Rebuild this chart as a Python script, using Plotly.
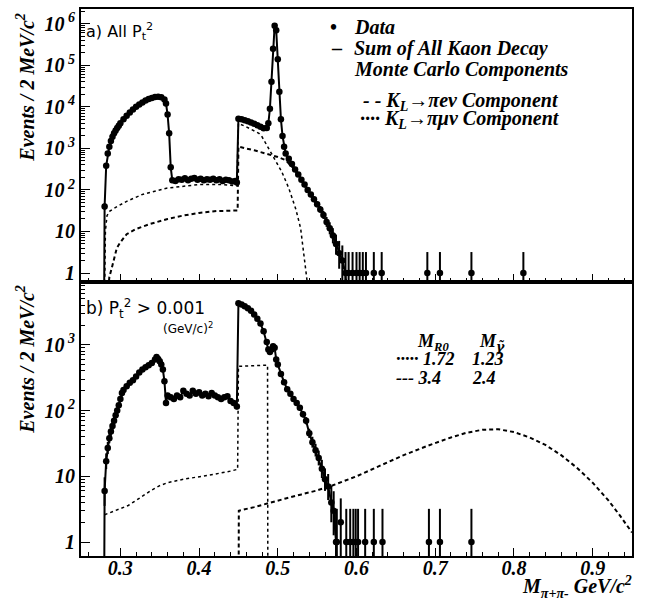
import numpy as np
import plotly.graph_objects as go

# ---------------- data ----------------
# panel a) all Pt^2 : data points
a_x = [0.280, 0.282, 0.284, 0.286, 0.288, 0.290, 0.292, 0.294, 0.296, 0.298,
       0.300, 0.304, 0.308, 0.312, 0.316, 0.320, 0.324, 0.328, 0.332, 0.336,
       0.340, 0.344, 0.348, 0.352, 0.356, 0.358, 0.360, 0.362, 0.364, 0.366,
       0.370, 0.374, 0.378, 0.382, 0.386, 0.390, 0.394, 0.398, 0.402, 0.406,
       0.410, 0.414, 0.418, 0.422, 0.426, 0.430, 0.434, 0.438, 0.442, 0.446,
       0.448,
       0.450, 0.454, 0.458, 0.462, 0.466, 0.470, 0.474, 0.478, 0.482, 0.486,
       0.488, 0.490, 0.492, 0.494, 0.496, 0.498, 0.500, 0.502, 0.504, 0.506,
       0.508, 0.510, 0.514, 0.518, 0.522, 0.526, 0.530, 0.534, 0.538, 0.542,
       0.546, 0.550, 0.554, 0.558, 0.562, 0.566, 0.570, 0.574, 0.578, 0.582,
       0.586,
       0.590, 0.595, 0.600, 0.604, 0.608, 0.612, 0.622, 0.632, 0.690, 0.706,
       0.746, 0.812]
a_y = [40, 380, 750, 1100, 1500, 1900, 2300, 2700, 3100, 3500,
       4000, 5000, 6100, 7300, 8600, 10000, 11400, 12800, 14200, 15400,
       16400, 17200, 17600, 17000, 15000, 12000, 6500, 2300, 350, 170,
       165, 180, 175, 190, 170, 185, 195, 175, 185, 170,
       180, 175, 185, 170, 180, 165, 175, 170, 160, 165,
       150,
       5200, 5000, 4750, 4500, 4200, 3900, 3600, 3300, 3050, 3100,
       4000, 9000, 40000, 250000, 900000, 700000, 140000, 23000, 5000, 2000,
       1100, 750, 560, 420, 310, 235, 175, 135, 100, 78,
       60, 45, 34, 25, 17, 12, 8, 5, 3, 2,
       1,
       1, 1, 1, 1, 1, 1, 1, 1, 1, 1,
       1, 1]

# panel a) K_L -> pi e nu component (dashed)
ke3_a_x = [0.2840, 0.2860, 0.2890, 0.2955, 0.3000, 0.3080, 0.3200, 0.3370, 0.3600,
           0.3790, 0.4000, 0.4220, 0.4490, 0.4500, 0.4700, 0.4850, 0.5000, 0.5100,
           0.5200, 0.5300, 0.5400, 0.5500, 0.5600, 0.5700, 0.5800, 0.5850, 0.5900]
ke3_a_y = [0.3, 0.8, 1.3, 4.0, 5.5, 8.6, 11.5, 15, 20,
           24, 28, 31, 32, 1100, 900, 750, 620, 520,
           330, 165, 85, 42, 20, 8, 2.5, 1.0, 0.3]

# panel a) K_L -> pi mu nu component (dotted)
kmu3_a_x = [0.2800, 0.2810, 0.2830, 0.2866, 0.2960, 0.3080, 0.3280, 0.3585, 0.4000,
            0.4300, 0.4480, 0.4500, 0.4600, 0.4700, 0.4760, 0.4800, 0.4900, 0.4925,
            0.5000, 0.5050, 0.5140, 0.5230, 0.5290, 0.5330, 0.5350, 0.5370, 0.5400]
kmu3_a_y = [0.3, 10, 24, 31, 40, 53, 78, 110, 135,
            135, 125, 4000, 3300, 2700, 2300, 1900, 900, 700,
            400, 275, 110, 34, 12, 3.0, 1.3, 0.7, 0.01]

# panel b) Pt^2 > 0.001 : data points
b_x = [0.280, 0.282, 0.284, 0.286, 0.288, 0.290, 0.292, 0.294, 0.296, 0.298,
       0.300, 0.302, 0.304, 0.308, 0.312, 0.316, 0.320, 0.324, 0.328, 0.332,
       0.336, 0.340, 0.344, 0.346, 0.348, 0.350, 0.352, 0.354, 0.356, 0.358,
       0.360,
       0.364, 0.368, 0.372, 0.376, 0.380, 0.384, 0.388, 0.392, 0.396, 0.400,
       0.404, 0.408, 0.412, 0.416, 0.420, 0.424, 0.428, 0.432, 0.436, 0.440,
       0.444, 0.448,
       0.450, 0.454, 0.458, 0.462, 0.466, 0.470, 0.474, 0.478, 0.482, 0.486,
       0.488, 0.490, 0.492, 0.494, 0.496, 0.498, 0.500, 0.504, 0.508, 0.512,
       0.516, 0.520, 0.524, 0.528, 0.532, 0.536, 0.540, 0.544, 0.548, 0.552,
       0.556, 0.560, 0.564, 0.568, 0.571, 0.574,
       0.575, 0.580, 0.587, 0.592, 0.596, 0.599, 0.602, 0.611, 0.622, 0.633,
       0.692, 0.706, 0.746]
b_y = [6, 17, 27, 38, 48, 58, 70, 85, 100, 120,
       150, 185, 205, 235, 265, 290, 330, 380, 420, 455,
       490, 530, 600, 650, 610, 560, 500, 420, 280, 130,
       170,
       160, 150, 170, 160, 200, 180, 170, 200, 180, 190,
       170, 180, 165, 185, 170, 160, 150, 160, 165, 140,
       130, 115,
       4300, 4100, 3850, 3600, 3300, 2900, 2500, 2100, 1600, 1100,
       850, 780, 850, 950, 900, 600, 500, 360, 270, 210,
       180, 150, 130, 110, 88, 70, 45, 33, 25, 19,
       13, 9, 7, 4, 3, 1,
       1, 2, 1, 1, 1, 1, 1, 1, 1, 1,
       1, 1, 1]

# panel b) signal shapes: M_R0 = 1.72 (dotted) and M_R0 = 3.4 (dashed)
sig1_x = [0.280, 0.290, 0.300, 0.310, 0.320, 0.330, 0.340, 0.350, 0.360, 0.380,
          0.400, 0.420, 0.440, 0.449, 0.450, 0.470, 0.4870, 0.4875]
sig1_y = [2.6, 2.9, 3.2, 3.6, 4.3, 5.2, 6.2, 7.2, 8.0, 9.0,
          9.8, 10.8, 12.0, 12.8, 470, 480, 490, 0.01]
sig2_x = [0.4500, 0.4505, 0.470, 0.490, 0.510, 0.530, 0.550, 0.570, 0.600, 0.630,
          0.660, 0.690, 0.720, 0.740, 0.760, 0.780, 0.800, 0.820, 0.840, 0.860,
          0.880, 0.900, 0.920, 0.935, 0.950]
sig2_y = [0.01, 3.0, 3.4, 4.0, 4.6, 5.3, 6.1, 7.3, 10, 14.5,
          21, 29, 39, 46, 51, 52, 47, 39, 30, 21,
          13.5, 8.0, 4.3, 2.5, 1.4]

# axis tick labels
x_ticks = [0.3, 0.4, 0.5, 0.6, 0.7, 0.8, 0.9]
x_ticktext = ["0.3", "0.4", "0.5", "0.6", "0.7", "0.8", "0.9"]
ya_ticks = [1, 10, 100, 1e3, 1e4, 1e5, 1e6]
ya_ticktext = ["1", "10", "10<sup> 2</sup>", "10<sup> 3</sup>", "10<sup> 4</sup>",
               "10<sup> 5</sup>", "10<sup> 6</sup>"]
yb_ticks = [1, 10, 100, 1e3]
yb_ticktext = ["1", "10", "10<sup> 2</sup>", "10<sup> 3</sup>"]

assert len(a_x) == len(a_y)
assert len(b_x) == len(b_y)
assert len(ke3_a_x) == len(ke3_a_y)
assert len(kmu3_a_x) == len(kmu3_a_y)
assert len(sig1_x) == len(sig1_y)
assert len(sig2_x) == len(sig2_y)

# ---------------- figure ----------------
W, H = 647, 602
L, R, T, B = 81, 15, 7, 46
PLOT_H = H - T - B
PLOT_W = W - L - R
SPLIT = (556 - 281) / PLOT_H

SERIF = "Liberation Serif"
SANS = "DejaVu Sans"


def bi(s):
    return "<b><i>" + s + "</i></b>"


def pxx(px):
    return (px - L) / PLOT_W


def pxy(py):
    return (H - B - py) / PLOT_H


def errs(vals):
    v = np.asarray(vals, dtype=float)
    up = np.sqrt(v) + 1.2
    dn = np.minimum(np.sqrt(v), v * 0.999)
    return up, dn


def mc_sum(xs, ys, x_start, x_end):
    return [x_start] + list(xs) + [x_end], [0.01] + list(ys) + [0.01]


fig = go.Figure()

# ----- panel a -----
fig.add_trace(go.Scatter(x=kmu3_a_x, y=kmu3_a_y, mode="lines", xaxis="x", yaxis="y",
                         line=dict(color="black", width=1.5, dash="dot"), showlegend=False))
fig.add_trace(go.Scatter(x=ke3_a_x, y=ke3_a_y, mode="lines", xaxis="x", yaxis="y",
                         line=dict(color="black", width=2, dash="4px,3px"), showlegend=False))
n_main_a = a_x.index(0.586) + 1
sx, sy = mc_sum(a_x[:n_main_a], a_y[:n_main_a], 0.2790, 0.5900)
fig.add_trace(go.Scatter(x=sx, y=sy, mode="lines", xaxis="x", yaxis="y",
                         line=dict(color="black", width=2), showlegend=False))
up, dn = errs(a_y)
fig.add_trace(go.Scatter(x=a_x, y=a_y, mode="markers", xaxis="x", yaxis="y",
                         marker=dict(color="black", size=6.5, symbol="circle"),
                         error_y=dict(type="data", array=up, arrayminus=dn, color="black",
                                      thickness=2, width=0),
                         showlegend=False))

# ----- panel b -----
fig.add_trace(go.Scatter(x=sig1_x, y=sig1_y, mode="lines", xaxis="x2", yaxis="y2",
                         line=dict(color="black", width=1.5, dash="dot"), showlegend=False))
fig.add_trace(go.Scatter(x=sig2_x, y=sig2_y, mode="lines", xaxis="x2", yaxis="y2",
                         line=dict(color="black", width=2, dash="4px,3px"), showlegend=False))
n_main_b = b_x.index(0.574) + 1
sx, sy = mc_sum(b_x[:n_main_b], b_y[:n_main_b], 0.2790, 0.5760)
fig.add_trace(go.Scatter(x=sx, y=sy, mode="lines", xaxis="x2", yaxis="y2",
                         line=dict(color="black", width=2), showlegend=False))
up, dn = errs(b_y)
fig.add_trace(go.Scatter(x=b_x, y=b_y, mode="markers", xaxis="x2", yaxis="y2",
                         marker=dict(color="black", size=6.5, symbol="circle"),
                         error_y=dict(type="data", array=up, arrayminus=dn, color="black",
                                      thickness=2, width=0),
                         showlegend=False))

tickfont = dict(family=SERIF, size=20, color="black", weight="bold", style="italic")


def minor_log(lo, hi):
    vals = []
    for k in range(lo, hi + 1):
        for m in range(2, 10):
            vals.append(m * 10 ** k)
    return vals


xcommon = dict(range=[0.25, 0.95], showgrid=False, zeroline=False, showline=True,
               linecolor="black", linewidth=2, mirror=True, ticks="inside", ticklen=8,
               tickwidth=1, tickcolor="black", tickmode="array", tickvals=x_ticks,
               minor=dict(dtick=0.02, tick0=0.3, ticks="inside", ticklen=4,
                          tickcolor="black", tickwidth=1),
               tickfont=tickfont)
ycommon = dict(type="log", showgrid=False, zeroline=False, showline=True,
               linecolor="black", linewidth=2, mirror=True, ticks="inside", ticklen=9,
               tickwidth=1, tickcolor="black", tickmode="array", tickfont=tickfont)

fig.update_layout(
    width=W, height=H,
    margin=dict(l=L, r=R, t=T, b=B),
    paper_bgcolor="white", plot_bgcolor="white",
    showlegend=False,
    xaxis=dict(domain=[0, 1], anchor="y", showticklabels=False, **xcommon),
    yaxis=dict(domain=[SPLIT, 1], anchor="x", range=[-0.216, 6.355],
               tickvals=ya_ticks, ticktext=[bi(t) for t in ya_ticktext],
               minor=dict(tickvals=minor_log(0, 6), ticks="inside", ticklen=4,
                          tickcolor="black", tickwidth=1),
               **ycommon),
    xaxis2=dict(domain=[0, 1], anchor="y2", matches="x", showticklabels=True,
                ticklabelstandoff=-7,
                ticktext=[bi(t) for t in x_ticktext], **xcommon),
    yaxis2=dict(domain=[0, SPLIT], anchor="x2", range=[-0.212, 3.955],
                tickvals=yb_ticks, ticktext=[bi(t) for t in yb_ticktext],
                minor=dict(tickvals=minor_log(0, 3), ticks="inside", ticklen=4,
                           tickcolor="black", tickwidth=1),
                **ycommon),
)

serif20 = dict(family=SERIF, size=20, color="black")
serif18 = dict(family=SERIF, size=18, color="black")
annots = []


def add_text(text, px, py, font, xanchor="left", yanchor="middle", angle=0):
    annots.append(dict(text=text, x=pxx(px), y=pxy(py), xref="paper", yref="paper",
                       xanchor=xanchor, yanchor=yanchor, showarrow=False, font=font,
                       textangle=angle))


# y-axis titles
add_text(bi("Events / 2 MeV/c<sup>2</sup>"), 25, 86, serif20, xanchor="center", angle=-90)
add_text(bi("Events / 2 MeV/c<sup>2</sup>"), 25, 359, serif20, xanchor="center", angle=-90)
# x-axis title
add_text(bi("M<sub>π+π-</sub> GeV/c<sup>2</sup>"), 634, 587, serif20, xanchor="right")

# panel labels
add_text("a) All P<sub>t</sub><sup>2</sup>", 84, 30, dict(family=SANS, size=16, color="black"))
add_text("b) P<sub>t</sub><sup>2</sup> &gt; 0.001", 84, 308, dict(family=SANS, size=17, color="black"))
add_text("(GeV/c)<sup>2</sup>", 161, 327, dict(family=SANS, size=12, color="black"))

# legend panel a
add_text("<b>•</b>", 333, 25, serif20, xanchor="center")
add_text(bi("Data"), 352, 25, serif20)
add_text("<b>–</b>", 337, 46, serif20, xanchor="center")
add_text(bi("Sum of All Kaon Decay"), 352, 47, serif20)
add_text(bi("Monte Carlo Components"), 352, 68, serif20)
add_text(bi("- - K<sub>L</sub>→πeν Component"), 361, 100, serif20)
add_text(bi("···· K<sub>L</sub>→πμν Component"), 358, 118, serif20)

# legend panel b
add_text(bi("M<sub>R0</sub>"), 415, 342, serif18)
add_text(bi("M<sub><span style=\"font-family:DejaVu Serif\">γ̃</span></sub>"), 477, 342, serif18)
add_text(bi("····· 1.72"), 394, 358, serif18)
add_text(bi("1.23"), 470, 358, serif18)
add_text(bi("--- 3.4"), 394, 377, serif18)
add_text(bi("2.4"), 470, 377, serif18)

fig.update_layout(annotations=annots)

fig.write_html("out.html", config={"displayModeBar": False},
               post_script="document.body.style.margin='0px';")
